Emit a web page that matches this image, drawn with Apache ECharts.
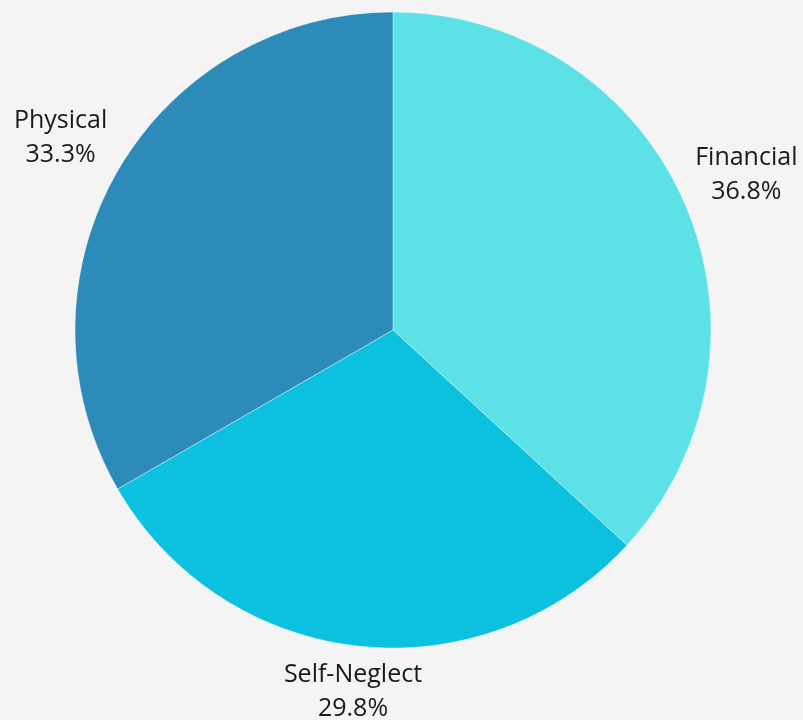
<!DOCTYPE html>
<html><head><meta charset="utf-8">
<script src="https://cdn.jsdelivr.net/npm/echarts@6/dist/echarts.min.js"></script>
<style>html,body{margin:0;padding:0;background:#f4f4f4}#c{width:803px;height:720px}</style>
</head><body><div id="c"></div>
<script>
const categories = ['Financial', 'Self-Neglect', 'Physical'];
const values = [36.8, 29.8, 33.3];
const colors = ['#5ce1e6', '#0cc0df', '#2d8bba'];

const CX = 393, CY = 330, R = 318, GAP = 12;
const total = values.reduce((a, b) => a + b, 0);
const midAngles = [];
let acc = 0;
values.forEach(v => { midAngles.push((acc + v / 2) / total * 2 * Math.PI); acc += v; });

const chart = echarts.init(document.getElementById('c'));
chart.setOption({
  backgroundColor: '#f4f4f4',
  animation: false,
  series: [{
    type: 'pie',
    center: [CX, CY],
    radius: R,
    startAngle: 90,
    clockwise: true,
    data: categories.map((n, i) => ({ name: n, value: values[i], itemStyle: { color: colors[i] } })),
    itemStyle: { borderColor: 'rgba(255,255,255,0.4)', borderWidth: 1 },
    label: {
      show: true,
      position: 'outside',
      formatter: p => p.name + '\n' + p.value.toFixed(1) + '%',
      fontFamily: 'Open Sans',
      fontSize: 25,
      lineHeight: 34,
      color: '#1a1a1a',
      align: 'center',
      overflow: 'none'
    },
    labelLine: { show: false, length: 10, length2: 0 },
    labelLayout: function (p) {
      const a = midAngles[p.dataIndex];
      const dx = Math.sin(a), dy = -Math.cos(a);
      const hw = p.labelRect.width / 2, hh = p.labelRect.height / 2;
      const t = Math.min(Math.abs(dx) > 1e-6 ? hw / Math.abs(dx) : Infinity, Math.abs(dy) > 1e-6 ? hh / Math.abs(dy) : Infinity);
      const d = R + GAP + t;
      return { x: CX + dx * d, y: CY + dy * d, align: 'center', verticalAlign: 'middle' };
    }
  }]
});
</script></body></html>
